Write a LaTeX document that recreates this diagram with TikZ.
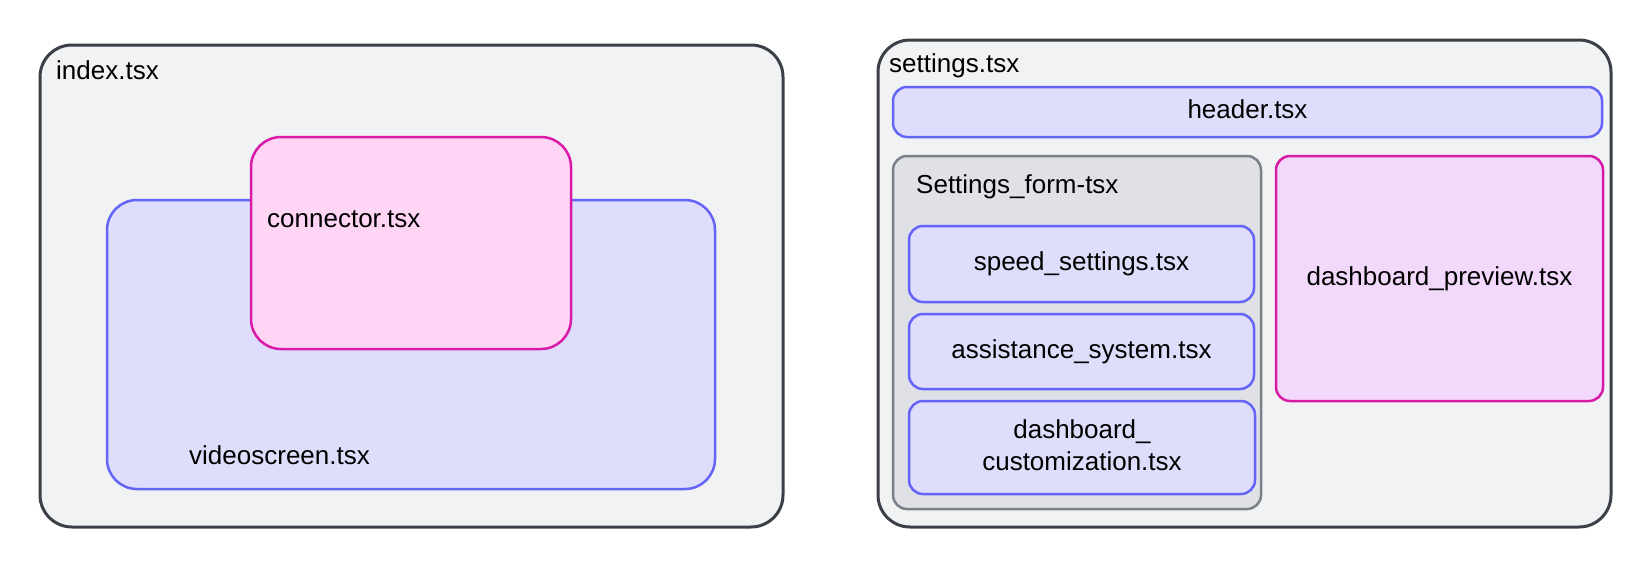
\documentclass[tikz,border=0pt]{standalone}
\usepackage{fontspec}
\setmainfont{Liberation Sans}
\usepackage{tikz}
\usetikzlibrary{positioning}
\definecolor{outerfill}{HTML}{F1F2F4}
\definecolor{outerline}{HTML}{3B4048}
\definecolor{bluefill}{HTML}{DEDEFC}
\definecolor{blueline}{HTML}{6464F8}
\definecolor{pinkfill}{HTML}{FED5F5}
\definecolor{pinkline}{HTML}{D91AA8}
\definecolor{lilacfill}{HTML}{F2D8FA}
\definecolor{formfill}{HTML}{DFE1E6}
\definecolor{formline}{HTML}{7A808A}

\begin{document}
\begin{tikzpicture}[
    x=1pt, y=-1pt,
    font=\fontsize{26}{31.5}\selectfont,
    pageBox/.style={rectangle, rounded corners=32pt, draw=outerline, fill=outerfill, line width=3pt, inner sep=0pt},
    screenBox/.style={rectangle, rounded corners=30pt, draw=blueline, fill=bluefill, line width=2.5pt, inner sep=0pt},
    plugBox/.style={rectangle, rounded corners=30pt, draw=pinkline, fill=pinkfill, line width=2.5pt, inner sep=0pt},
    formBox/.style={rectangle, rounded corners=14pt, draw=formline, fill=formfill, line width=2.5pt, inner sep=0pt},
    fileBox/.style={rectangle, rounded corners=14pt, draw=blueline, fill=bluefill, line width=2.5pt, inner sep=0pt, align=center},
    previewBox/.style={rectangle, rounded corners=14pt, draw=pinkline, fill=lilacfill, line width=2.5pt, inner sep=0pt},
    oneLine/.style={text height=17.5pt, text depth=4.5pt},
    tag/.style={anchor=base west, inner sep=0pt}
]
    \useasboundingbox (0,0) rectangle (1652,568);

    % left page
    \node[pageBox, minimum width=743pt, minimum height=482pt] (index) at (411.5, 286) {};
    \node[tag] (indexTag) at (56, 79) {index.tsx};

    \node[screenBox, minimum width=608pt, minimum height=289pt] (video) at (411, 344.5) {};
    \node[tag] (videoTag) at (189, 464) {videoscreen.tsx};

    \node[plugBox, minimum width=320pt, minimum height=212pt] (conn) at (411, 243) {};
    \node[tag] (connTag) at (267, 227) {connector.tsx};

    % right page
    \node[pageBox, minimum width=733pt, minimum height=487pt] (settings) at (1244.5, 283.5) {};
    \node[tag] (settingsTag) at (889, 72) {settings.tsx};

    \node[fileBox, oneLine, minimum width=709pt, minimum height=50pt] (header) at (1247.5, 112) {header.tsx};

    \node[formBox, minimum width=368pt, minimum height=353pt] (form) at (1077, 332.5) {};
    \node[tag] (formTag) at (916, 193) {Settings\_form-tsx};

    \node[fileBox, oneLine, minimum width=345pt, minimum height=76pt] (speed) at (1081.5, 264) {speed\_settings.tsx};
    \node[fileBox, oneLine, minimum width=345pt, minimum height=75pt] (assist) at (1081.5, 351.5) {assistance\_system.tsx};
    \node[fileBox, minimum width=346pt, minimum height=93pt] (custom) at (1082, 447.5) {};
    \node[align=center, inner sep=0pt] (customTag) at (1082, 445) {dashboard\_\\customization.tsx};

    \node[previewBox, oneLine, minimum width=327pt, minimum height=245pt] (preview) at (1439.5, 278.5) {dashboard\_preview.tsx};
\end{tikzpicture}
\end{document}
